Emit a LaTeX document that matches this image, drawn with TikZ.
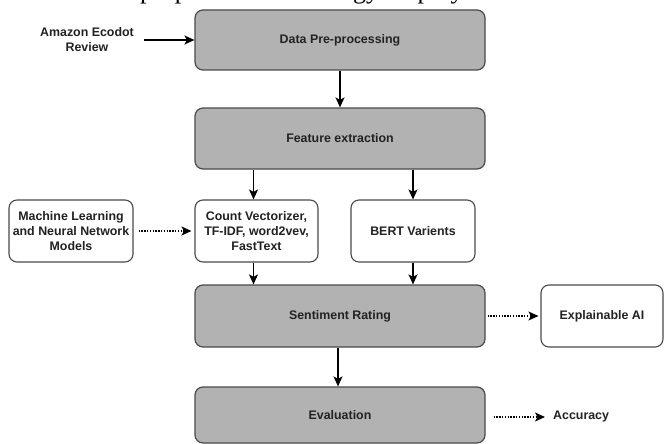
\documentclass[tikz,border=0pt]{standalone}
\usepackage{fontspec}
\setmainfont{Liberation Sans}
\newfontfamily\topserif{Liberation Serif}
\usetikzlibrary{arrows.meta}
\definecolor{boxgray}{HTML}{B2B2B2}
\definecolor{edgegray}{HTML}{4A4A4A}
\definecolor{txt}{HTML}{222222}
\begin{document}
\begin{tikzpicture}[x=1pt,y=-1pt,
  lbl/.style={font=\fontsize{12.4}{15}\selectfont\bfseries, text=txt, align=center},
  graybox/.style={lbl, draw=edgegray, line width=1.2pt, fill=boxgray, rounded corners=8pt, inner sep=0pt},
  whitebox/.style={lbl, draw=edgegray, line width=1.1pt, fill=white, rounded corners=8pt, inner sep=0pt},
  arr/.style={line width=1.5pt, black, -{Stealth[length=10pt,width=9pt,inset=2.5pt]}},
  dotarr/.style={line width=1.5pt, black, dash pattern=on 1.4pt off 1.4pt, -{Stealth[length=10pt,width=9pt,inset=2.5pt]}}
]
\useasboundingbox (0,0) rectangle (664,444);
\clip (0,0) rectangle (664,444);
\fill[white] (0,0) rectangle (664,444);

% clipped line of text from the page above
\node[anchor=base west, inner sep=0pt, font=\topserif\fontsize{26}{30}\selectfont] (toptext) at (140,-1.5) {proposed methodology employ};

\node[graybox, minimum width=290pt, minimum height=60pt] (data) at (340,40) {Data Pre-processing};
\node[graybox, minimum width=290pt, minimum height=61pt] (feat) at (340,138.5) {Feature extraction};
\node[whitebox, minimum width=124pt, minimum height=62pt] (ml) at (71,231) {Machine Learning\\and Neural Network\\Models};
\node[whitebox, minimum width=123pt, minimum height=62pt] (count) at (256.5,231) {Count Vectorizer,\\TF-IDF, word2vev,\\FastText};
\node[whitebox, minimum width=124pt, minimum height=62pt] (bert) at (413,231) {BERT Varients};
\node[graybox, minimum width=290pt, minimum height=62pt] (sent) at (340,316) {Sentiment Rating};
\node[whitebox, minimum width=122pt, minimum height=62pt] (xai) at (602,316) {Explainable AI};
\node[graybox, minimum width=290pt, minimum height=56pt] (eval) at (340,415) {Evaluation};

\node[lbl, inner sep=0pt] (amazon) at (87,40) {Amazon Ecodot\\Review};
\node[lbl, anchor=west, inner sep=0pt] (acc) at (553,417) {Accuracy};

\draw[arr] ([xshift=10pt]amazon.east |- data.west) -- (data.west);
\draw[arr] (data.south) -- (feat.north);
\draw[arr] ([xshift=-3pt]count.north |- feat.south) -- ([xshift=-3pt]count.north);
\draw[arr] (bert.north |- feat.south) -- (bert.north);
\draw[arr] ([xshift=-3pt]count.south) -- ([xshift=-3pt]count.south |- sent.north);
\draw[arr] (bert.south) -- (bert.south |- sent.north);
\draw[arr] ([xshift=-2pt]sent.south) -- ([xshift=-2pt]eval.north);
\draw[dotarr, shorten <=5pt, shorten >=3pt] (ml.east) -- (count.west);
\draw[dotarr, shorten <=2pt, shorten >=2pt] (sent.east) -- (xai.west);
\draw[dotarr, shorten <=8pt, shorten >=8pt] (eval.east |- acc.west) -- (acc.west);
\end{tikzpicture}
\end{document}
